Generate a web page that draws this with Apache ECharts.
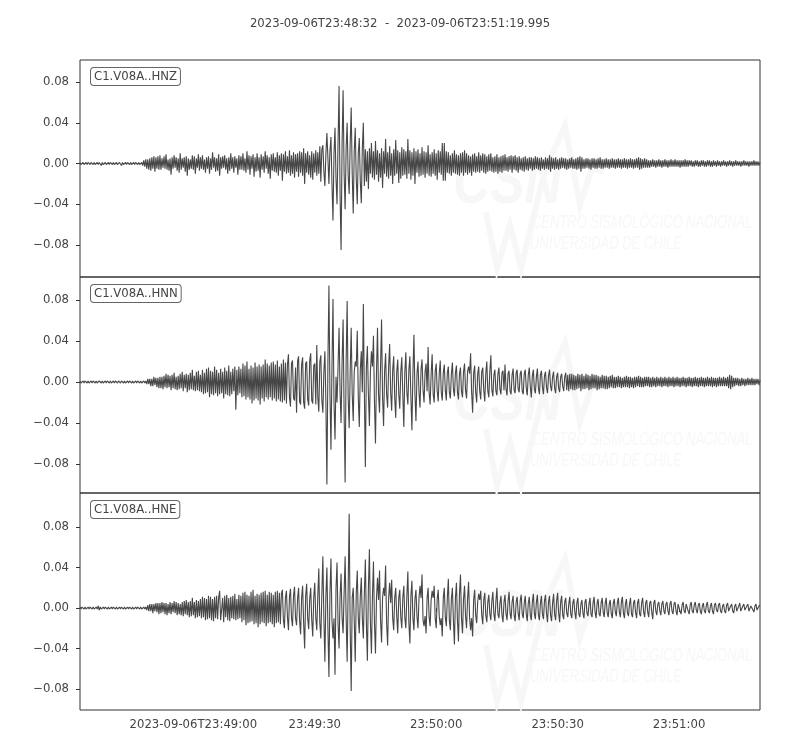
<!DOCTYPE html>
<html><head><meta charset="utf-8">
<script src="https://cdn.jsdelivr.net/npm/echarts@6/dist/echarts.min.js"></script>
<style>html,body{margin:0;padding:0;background:#fff}#c{width:800px;height:750px}</style>
</head><body><div id="c"></div>
<script>
const titleText = '2023-09-06T23:48:32  -  2023-09-06T23:51:19.995';
const startSec = 85712;          // 23:48:32 as seconds of day
const endSec = 85879.995;        // 23:51:19.995
const sampleStep = 0.25;         // seconds between plotted samples
const channels = ['C1.V08A..HNZ', 'C1.V08A..HNN', 'C1.V08A..HNE'];

// amplitudes in thousandths, 40 samples per 10 s row
const hnzMilli = [
  1,-1,0,1,-1,0,1,-1,1,0, -1,1,0,-1,1,-1,0,1,-1,1, 2,-2,1,-1,0,1,-1,0,1,-1, 1,0,-1,1,-1,0,1,-1,0,1,
  2,-2,1,-1,0,1,-1,1,0,-1, 1,-1,0,1,-1,1,0,-1,1,-1, 0,1,-2,3,-3,4,-5,4,-6,5, -7,6,-5,7,-8,6,-5,7,-6,8,
  -6,5,-4,7,-5,9,-6,4,-7,5, -11,6,-5,8,-4,6,-7,5,-9,10, -6,5,-4,6,-8,7,-12,5,-6,4, -5,8,-6,7,-10,5,-4,9,-7,6,
  -5,8,-6,4,-9,6,-5,7,-10,5, -6,11,-4,6,-8,5,-7,9,-12,6, -5,7,-4,8,-6,5,-10,6,-7,10, -5,6,-9,7,-4,5,-11,8,-6,7,
  -6,10,-7,5,-9,12,-6,8,-11,7, -5,9,-13,6,-8,10,-7,6,-14,9, -6,7,-9,12,-5,8,-10,6,-15,9, -7,10,-8,6,-9,11,-12,8,-7,10,
  -17,9,-8,12,-10,7,-9,13,-12,8, -10,11,-14,9,-8,10,-13,12,-9,11, -12,15,-20,10,-9,12,-11,8,-14,12, -16,10,-9,13,-12,11,-10,17,-18,14,
  18,-8,-22,10,30,5,-20,12,26,-20, -56,10,35,-15,-40,20,76,-30,-85,20, 72,-10,-45,15,40,-12,-30,20,55,-10, -49,12,35,-15,-40,10,25,-18,-39,15,
  40,-22,14,-18,12,-25,15,-10,20,-14, 12,-16,22,-11,13,-18,10,-14,15,-24, 12,-10,24,-13,11,-15,17,-12,10,-20, 14,-12,23,-10,13,-19,11,-15,16,-12,
  14,-11,12,-15,24,-10,13,-16,11,-12, 15,-20,12,-9,14,-13,10,-12,16,-11, 12,-14,11,-10,18,-12,9,-13,11,-10, 14,-12,10,-16,13,-9,12,-11,20,-17,
  20,-17,12,-9,11,-10,8,-12,10,-9, 13,-10,9,-11,8,-12,10,-9,11,-12, 13,-9,10,-11,8,-9,7,-12,9,-8, 10,-9,7,-8,11,-9,8,-7,10,-9,
  9,-10,7,-8,9,-7,10,-8,6,-9, 7,-8,9,-10,6,-8,7,-9,8,-7, 9,-7,6,-8,7,-6,8,-9,7,-6, 8,-7,6,-9,7,-6,5,-7,6,-8,
  7,-6,5,-7,6,-5,6,-7,5,-6, 7,-5,6,-6,5,-7,6,-5,4,-6, 6,-5,5,-6,8,-8,6,-5,5,-6, 6,-5,4,-6,5,-5,6,-4,5,-5,
  5,-6,4,-5,5,-4,6,-5,4,-5, 5,-6,6,-5,7,-8,6,-5,4,-5, 5,-4,5,-5,4,-6,5,-4,5,-5, 4,-5,5,-4,6,-5,4,-5,4,-4,
  5,-4,4,-5,4,-4,5,-4,4,-5, 4,-4,5,-4,4,-5,4,-4,5,-4, 4,-5,4,-4,5,-4,4,-5,4,-4, 5,-4,6,-6,5,-5,4,-4,5,-4,
  4,-4,3,-4,3,-3,4,-3,3,-4, 3,-3,4,-3,3,-4,3,-3,4,-3, 3,-4,3,-3,4,-3,3,-3,4,-3, 3,-3,3,-4,3,-3,3,-3,4,-3,
  3,-3,3,-2,3,-3,2,-3,3,-2, 3,-3,2,-3,3,-2,3,-3,2,-3, 3,-2,3,-3,2,-3,3,-2,2,-3, 3,-2,2,-3,2,-2,3,-2,2,-3,
  2,-2,3,-2,2,-3,2,-2,3,-2, 2,-2,2,-3,2,-2,3,-2,2,-2, 2,-3,2,-2,2,-2,3,-2,2,-2, 2,-2,1
];
const hnnMilli = [
  1,-1,0,1,-1,1,0,-1,1,-1, 0,1,-1,1,0,-1,1,-1,0,1, 2,-1,1,-1,0,1,-1,1,0,-1, 1,-1,0,1,-1,1,0,-1,1,0,
  -1,1,0,-1,1,-1,0,1,-1,1, 0,-1,1,-1,0,1,-1,1,0,-1, 1,-1,0,1,-1,1,-2,3,-2,3, -4,3,-4,5,-3,4,-5,4,-6,5,
  -6,5,-7,6,-5,8,-6,7,-5,6, -8,7,-6,9,-7,5,-8,6,-7,8, -6,10,-9,7,-6,8,-10,7,-8,9, -7,12,-8,6,-9,10,-8,11,-9,7,
  -10,12,-12,9,-11,13,-10,14,-15,11, -12,10,-13,15,-11,12,-14,9,-12,13, -11,10,-16,14,-12,11,-13,16,-14,10, -12,13,-9,15,-27,12,-13,15,-11,13,
  -15,18,-14,16,-17,20,-15,13,-17,16, -21,14,-18,19,-16,15,-18,17,-22,15, -16,17,-19,22,-15,18,-17,16,-15,19, -18,20,-16,17,-19,21,-17,15,-19,18,
  -20,22,-18,19,-21,17,27,-15,-24,18, 21,-16,-18,14,-30,20,25,-19,-22,17, 24,-20,-26,18,20,-17,-23,21,28,-18, -21,16,18,-22,36,-15,-29,20,26,-18,
  -30,10,30,-20,-100,20,94,-10,-66,15, 81,-20,-56,5,-20,15,53,-10,-40,20, 61,-30,-98,20,79,-15,-45,10,53,-12, -38,10,20,15,50,-15,-44,12,30,-10,
  76,-10,-83,15,35,-12,-43,10,30,15, 45,-20,-60,10,53,-12,-30,15,61,-15, -43,10,28,-12,-25,15,37,-10,-28,12, 25,-15,-35,10,22,-12,-26,10,24,-12,
  -44,10,29,-10,-22,12,25,-15,-47,10, 46,-12,-38,8,20,-10,-25,12,22,-8, -20,10,18,-9,34,-10,-22,8,27,-12, -20,10,18,-9,-19,8,21,-10,-18,9,
  17,-8,-18,9,15,-10,-16,8,19,-7, -14,9,16,-10,-17,8,14,-9,-15,10, 18,-8,-16,10,15,8,28,-10,-30,9, 16,-10,-20,8,15,-9,-17,10,14,-8,
  -19,8,20,-9,-15,10,26,-8,-14,7, 12,-9,-13,8,14,-7,-12,9,11,-8, 17,-7,-13,8,11,-9,-12,7,13,-8, -11,9,12,-7,-10,8,11,-9,-12,8,
  12,-6,-13,7,14,-5,-15,6,12,-7, -11,5,13,-6,-12,7,11,-5,-12,6, 10,-5,-11,6,12,-4,-9,5,10,-6, -11,5,9,-6,-10,5,8,-4,-9,5,
  9,-8,7,-9,8,-7,8,-8,7,-8, 6,-7,8,-6,7,-9,8,-7,6,-7, 8,-6,7,-8,6,-7,8,-6,7,-6, 7,-8,6,-7,5,-6,7,-6,6,-7,
  6,-7,5,-6,6,-5,7,-6,5,-6, 5,-5,6,-5,5,-6,4,-5,5,-5, 6,-5,5,-6,5,-5,4,-6,5,-5, 5,-4,6,-5,5,-5,4,-5,5,-4,
  5,-4,5,-5,4,-5,5,-4,4,-5, 5,-4,4,-4,5,-5,4,-4,5,-4, 4,-5,5,-4,4,-4,5,-5,4,-4, 5,-4,4,-5,4,-4,5,-4,4,-5,
  4,-4,5,-4,4,-5,4,-4,5,-4, 4,-5,4,-4,5,-4,4,-5,4,-4, 5,-4,4,-4,5,-5,4,-4,4,-5, 4,-4,5,-4,4,-4,5,-4,4,-4,
  5,-6,7,-7,6,-5,4,-4,4,-3, 4,-4,3,-4,4,-3,3,-4,3,-3, 4,-3,3,-3,4,-3,3,-3,3,-2, 3,-3,2
];
const hneMilli = [
  1,-1,1,0,-1,1,-1,0,1,-1, 1,0,-1,1,-1,0,1,-1,2,-2, 1,-1,0,1,-1,1,0,-1,1,-1, 0,1,-1,1,0,-1,1,-1,0,1,
  -1,1,0,-1,1,-1,0,1,-1,1, 0,-1,1,-1,0,1,-1,1,0,-1, 1,-1,0,1,-1,1,-2,3,-3,4, -3,4,-5,4,-3,5,-4,5,-6,5,
  -5,6,-4,5,-6,5,-7,4,-5,6, -6,5,-4,7,-5,6,-7,5,-6,4, -7,6,-8,7,-6,8,-7,6,-9,7, -8,10,-7,6,-10,8,-9,7,-8,9,
  -10,11,-9,10,-12,9,-11,12,-10,11, -12,9,-13,11,-10,12,-11,10,17,-12, -11,10,-14,12,-9,13,-12,10,-13,11, -10,12,-11,14,-12,9,-11,13,-10,12,
  -14,15,-12,16,-17,13,-15,12,-14,16, -13,18,-16,12,-15,14,-19,13,-16,15, -14,16,-15,17,-18,13,-15,16,-14,15, -16,13,-19,16,-15,17,-14,15,-16,14,
  18,-12,-20,10,17,-9,-22,11,19,-10, -18,12,21,-10,-17,9,20,-12,-26,10, 22,-15,-40,12,24,-10,-21,9,20,-12, -28,11,25,-10,-22,12,39,-15,-30,14,
  51,-10,-53,12,40,-20,-68,15,49,-12, -30,-10,-66,20,45,-15,-40,12,34,-10, -25,15,51,-10,-53,20,93,-20,-82,10, 20,-12,-53,15,37,-10,-25,12,30,-10,
  -30,15,48,-15,-52,20,58,-15,-45,12, 46,-15,-45,10,30,8,37,-12,-34,10, 20,12,42,-15,-37,10,25,5,28,-10, -22,10,20,-8,-25,10,18,-9,-20,10,
  22,-10,-20,12,36,-15,-35,12,27,-10, -22,9,18,-8,-20,10,22,10,33,-12, -18,-8,-25,10,20,-9,-18,8,17,10, 22,-10,-20,9,18,-8,-17,-10,-28,10,
  20,-9,-18,10,29,-12,-22,9,20,-12, -36,10,25,-12,-33,14,33,-10,-25,9, 22,-8,-20,9,26,-10,-22,-10,-28,8, 18,-7,-15,6,14,8,17,-7,-16,8,
  15,-7,-14,6,13,-6,-12,7,16,-6, -13,7,20,-6,-10,5,12,-7,-14,6, 13,-6,-12,7,16,-5,-11,6,12,-7, -13,6,11,-5,-12,7,13,-6,-10,5,
  12,-6,-13,5,11,-7,-12,6,14,-5, -11,6,13,-7,-12,5,12,-6,-11,7, 13,-5,-14,6,12,-7,-13,5,14,-6, -12,7,15,-5,-14,6,12,-7,-11,6,
  10,-5,-9,4,11,-6,-10,5,9,-4, -11,5,10,-6,-9,4,8,-5,-10,6, 9,-5,-8,4,10,-6,-9,5,11,-4, -10,5,9,-6,-8,5,10,-4,-9,5,
  10,-5,-9,4,8,-6,-10,5,9,-4, -8,5,10,-4,-9,6,11,-5,-10,4, 9,-5,-8,4,10,-6,-9,5,8,-4, -10,5,9,-6,-8,5,10,-4,-9,5,
  8,-4,-9,5,7,-4,-11,5,8,-3, -7,4,6,-3,-7,4,7,-3,-6,4, 6,-3,-7,4,7,-3,-6,4,6,-3, -7,4,5,-3,-6,3,6,-3,-5,4,
  5,-3,-6,3,6,-3,-5,3,6,-2, -5,3,5,-3,-6,2,5,-3,-5,3, 6,-3,-5,2,5,-3,-6,3,5,-2, -4,3,5,-3,-5,2,4,-3,-5,3,
  5,-3,-4,2,4,-3,-5,2,4,-3, -4,2,5,-3,-4,2,4,-2,-3,2, 4,-3,-4,2,3,-2,-4,2,4,-2, -3,2,3
];

const xTickSecs = [85740, 85770, 85800, 85830, 85860];
const xTickLabels = ['2023-09-06T23:49:00', '23:49:30', '23:50:00', '23:50:30', '23:51:00'];
const yTicks = [-0.08, -0.04, 0, 0.04, 0.08];
const yTickLabels = ['\u22120.08', '\u22120.04', '0.00', '0.04', '0.08'];
const yLimits = [[-0.1114, 0.1016], [-0.1083, 0.1024], [-0.1007, 0.1136]];
const watermarkLines = ['CENTRO SISMOLÓGICO NACIONAL', 'UNIVERSIDAD DE CHILE'];

const traces = [hnzMilli, hnnMilli, hneMilli];
const panelTops = [60, 277, 493];
const panelHeights = [217, 216, 217];
const FONT = "'DejaVu Sans', sans-serif";
const FS = 11.7;
const TXT = '#444';
const AX = '#333';
const WM = '#f7f7f7';

const grids = [], xAxes = [], yAxes = [], series = [], graphics = [];
for (let k = 0; k < 3; k++) {
  grids.push({left: 80, width: 680, top: panelTops[k], height: panelHeights[k],
    show: true, borderColor: AX, borderWidth: 1, backgroundColor: 'transparent'});
  const bottom = k === 2;
  xAxes.push({type: 'value', gridIndex: k, min: startSec, max: endSec,
    axisLine: {show: false}, splitLine: {show: false},
    axisTick: {show: bottom, customValues: xTickSecs, length: 4, lineStyle: {color: AX}},
    axisLabel: {show: bottom, customValues: xTickSecs, margin: 9, fontSize: FS,
      fontFamily: FONT, color: TXT,
      formatter: v => xTickLabels[xTickSecs.indexOf(v)] || ''}});
  yAxes.push({type: 'value', gridIndex: k, min: yLimits[k][0], max: yLimits[k][1],
    axisLine: {show: false}, splitLine: {show: false},
    axisTick: {show: true, customValues: yTicks, length: 4, lineStyle: {color: AX}},
    axisLabel: {customValues: yTicks, margin: 11, fontSize: FS, fontFamily: FONT, color: TXT,
      formatter: v => {
        let best = 0;
        for (let j = 0; j < yTicks.length; j++) if (Math.abs(yTicks[j] - v) < Math.abs(yTicks[best] - v)) best = j;
        return yTickLabels[best];
      }}});
  series.push({type: 'line', xAxisIndex: k, yAxisIndex: k, showSymbol: false, symbol: 'none',
    animation: false, z: 5, clip: true, sampling: null,
    lineStyle: {color: '#474747', width: 1.1},
    data: traces[k].map((v, i) => [startSec + i * sampleStep, v / 1000])});

  const top = panelTops[k];
  // faint watermark
  graphics.push({type: 'polyline', z: 1, silent: true,
    shape: {points: [[486, top + 152], [497, top + 208], [510, top + 165], [521, top + 208],
      [545, top + 110], [565, top + 66], [580, top + 145], [592, top + 108], [604, top + 112]]},
    style: {stroke: WM, lineWidth: 6, fill: null}});
  graphics.push({type: 'group', x: 453, y: top + 92, scaleX: 0.78, silent: true, z: 1,
    children: [{type: 'text', z: 1, style: {text: 'CSN', x: 0, y: 0,
      font: "italic bold 66px 'Liberation Sans', sans-serif", fill: WM}}]});
  graphics.push({type: 'group', x: 532, y: top + 154, scaleX: 0.72, silent: true, z: 1,
    children: [{type: 'text', z: 1, style: {text: watermarkLines[0], x: 0, y: 0,
      font: "italic 18px 'Liberation Sans', sans-serif", fill: WM}}]});
  graphics.push({type: 'group', x: 530, y: top + 175, scaleX: 0.72, silent: true, z: 1,
    children: [{type: 'text', z: 1, style: {text: watermarkLines[1], x: 0, y: 0,
      font: "italic 18px 'Liberation Sans', sans-serif", fill: WM}}]});
  // channel label box
  graphics.push({type: 'text', z: 100,
    style: {text: channels[k], x: 91, y: top + 8, font: FS + "px 'DejaVu Sans', sans-serif", fill: TXT,
      backgroundColor: '#fff', borderColor: '#666', borderWidth: 1, borderRadius: 3,
      padding: [3, 3, 2, 3]}});
}

const chart = echarts.init(document.getElementById('c'), null, {renderer: 'canvas'});
chart.setOption({
  animation: false,
  backgroundColor: '#fff',
  title: {text: titleText, left: 'center', top: 13,
    textStyle: {fontSize: FS, fontWeight: 'normal', color: TXT, fontFamily: FONT}},
  grid: grids, xAxis: xAxes, yAxis: yAxes, series: series, graphic: graphics
});
</script></body></html>
